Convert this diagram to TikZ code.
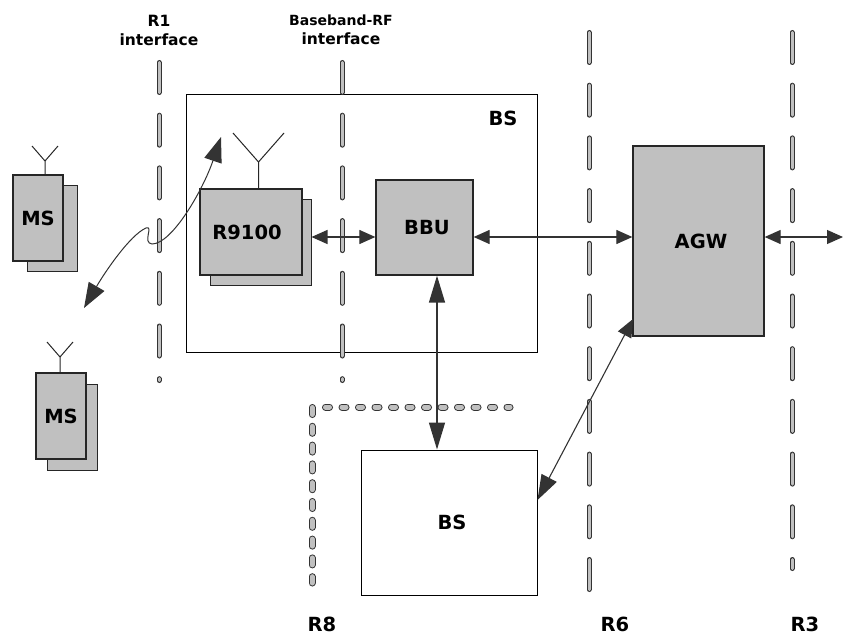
\documentclass[tikz,border=0pt]{standalone}
\usepackage{fontspec}
\setmainfont{DejaVu Sans}
\usetikzlibrary{arrows.meta, positioning, calc}
\definecolor{unitgray}{HTML}{C0C0C0}
\definecolor{arrowdark}{HTML}{333333}

\begin{document}
\begin{tikzpicture}[
    x = 1pt, y = -1pt,
    frame/.style = {draw = black, line width = 1pt, fill = white,
                    font = \fontsize{19.5}{21}\selectfont\bfseries, inner sep = 0pt},
    unit/.style  = {draw = black!85, line width = 1.3pt, fill = unitgray,
                    font = \fontsize{19.5}{21}\selectfont\bfseries, inner sep = 0pt},
    under/.style = {draw = black!85, line width = 1pt, fill = unitgray, inner sep = 0pt},
    lbl/.style   = {font = \fontsize{19.5}{21}\selectfont\bfseries, inner sep = 0pt},
    toplbl/.style = {font = \fontsize{15.5}{19}\selectfont\bfseries, align = center, inner sep = 0pt},
    slot/.style  = {draw = unitgray, line width = 3pt, line cap = round,
                    dash pattern = on 30pt off 22.7pt,
                    preaction = {draw = black!80, line width = 5pt, line cap = round,
                                 dash pattern = on 30pt off 22.7pt}},
    dotv/.style  = {draw = unitgray, line width = 5pt, line cap = round,
                    dash pattern = on 7pt off 11.8pt,
                    preaction = {draw = black!80, line width = 7pt, line cap = round,
                                 dash pattern = on 7pt off 11.8pt}},
    doth/.style  = {draw = unitgray, line width = 5pt, line cap = round,
                    dash pattern = on 4pt off 12.5pt,
                    preaction = {draw = black!80, line width = 7pt, line cap = round,
                                 dash pattern = on 4pt off 12.5pt}},
    arr/.style   = {{Triangle[length=16pt,width=14pt]}-{Triangle[length=16pt,width=14pt]},
                    arrowdark, line width = 1.2pt},
    big/.style   = {{Triangle[length=27pt,width=16pt]}-{Triangle[length=27pt,width=16pt]},
                    arrowdark, line width = 1.4pt},
    mast/.style  = {draw = black!85, line width = 1pt},
  ]
    \useasboundingbox (0,0) rectangle (843,634);

    %% ── Base stations ────────────────────────────────────────────
    \node[frame, minimum width = 351pt, minimum height = 258pt] (BS1) at (361.5,223) {};
    \node[lbl] (BS1t) at (503,118) {BS};
    \node[frame, minimum width = 176pt, minimum height = 145pt] (BS2) at (449,522.5) {\hspace{6pt}BS};

    %% ── Interface lines ──────────────────────────────────────────
    \coordinate (R1a) at (159,62.5);   \coordinate (R1b) at (159,380.5);
    \coordinate (RFa) at (342,62.5);   \coordinate (RFb) at (342,380.5);
    \coordinate (R6a) at (589,32.5);   \coordinate (R6b) at (589,590.5);
    \coordinate (R3a) at (792,32.5);   \coordinate (R3b) at (792,568.5);
    \draw[slot] (R1a) -- (R1b);
    \draw[slot] (RFa) -- (RFb);
    \draw[slot] (R6a) -- (R6b);
    \draw[slot] (R3a) -- (R3b);

    %% ── R8 ───────────────────────────────────────────────────────
    \coordinate (R8a) at (312,407.5);  \coordinate (R8b) at (312,583);
    \coordinate (R8c) at (325.5,407);  \coordinate (R8d) at (510,407);
    \draw[dotv] (R8a) -- (R8b);
    \draw[doth] (R8c) -- (R8d);

    %% ── Mobile stations ──────────────────────────────────────────
    \node[under, minimum width = 50pt, minimum height = 86pt] (MS1b) at (52,228) {};
    \node[unit, minimum width = 50pt, minimum height = 86pt] (MS1) at (38,218) {MS};
    \coordinate (MS1t) at (45,161);
    \coordinate (MS1l) at (32,146);
    \coordinate (MS1r) at (58,146);
    \draw[mast] (MS1.north -| MS1t) -- (MS1t) -- (MS1l);
    \draw[mast] (MS1t) -- (MS1r);

    \node[under, minimum width = 50pt, minimum height = 86pt] (MS2b) at (72,427) {};
    \node[unit, minimum width = 50pt, minimum height = 86pt] (MS2) at (61,416) {MS};
    \coordinate (MS2t) at (60,357);
    \coordinate (MS2l) at (47,342);
    \coordinate (MS2r) at (73,342);
    \draw[mast] (MS2.north -| MS2t) -- (MS2t) -- (MS2l);
    \draw[mast] (MS2t) -- (MS2r);

    %% ── Radio unit, baseband, gateway ────────────────────────────
    \node[under, minimum width = 101pt, minimum height = 86pt] (RRUb) at (260.5,242) {};
    \node[unit, minimum width = 102pt, minimum height = 86pt] (RRU) at (251,232) {R9100\kern8pt};
    \coordinate (RRUt) at (258.5,162);
    \coordinate (RRUl) at (233,133);
    \coordinate (RRUr) at (284,133);
    \draw[mast] (RRU.north -| RRUt) -- (RRUt) -- (RRUl);
    \draw[mast] (RRUt) -- (RRUr);

    \node[unit, minimum width = 97pt, minimum height = 95pt] (BBU) at (424.5,227.5) {\hspace{5pt}BBU};
    \node[unit, minimum width = 131pt, minimum height = 190pt] (AGW) at (698.5,241) {\hspace{5pt}AGW};

    %% ── Connectors ───────────────────────────────────────────────
    \coordinate (M) at (0,237);
    \coordinate (EX) at (843,237);
    \coordinate (AG) at (633,319);
    \coordinate (BSd) at (537.5,500);
    \draw[arr] (RRUb.east |- M) -- (BBU.west |- M);
    \draw[arr] (BBU.east |- M) -- (AGW.west |- M);
    \draw[arr] (AGW.east |- M) -- (EX);
    \draw[big] (BBU.south -| 437,0) -- (BS2.north -| 437,0);
    \draw[{Triangle[length=25pt,width=17pt]}-{Triangle[length=18pt,width=15pt]},
          arrowdark, line width = 1.1pt] (BSd) -- (AG);

    %% ── Radio link ───────────────────────────────────────────────
    \coordinate (LKa) at (84,308);
    \coordinate (LKb) at (221,137);
    \draw[{Triangle[length=25pt,width=18pt]}-{Triangle[length=25pt,width=18pt]},
          arrowdark, line width = 1pt]
      (LKa) .. controls (105,272) and (130,235) .. (146,228)
            .. controls (154,225) and (142,243) .. (152,244)
            .. controls (172,244) and (203,190) .. (LKb);

    %% ── Labels ───────────────────────────────────────────────────
    \node[toplbl] (R1l) at (159,30) {R1\\interface};
    \node[toplbl] (RFl) at (341,30) {{\fontsize{14}{19}\selectfont Baseband-RF}\\interface};
    \node[lbl] (R8l) at (322,624) {R8};
    \node[lbl] (R6l) at (615,624) {R6};
    \node[lbl] (R3l) at (805,624) {R3};
  \end{tikzpicture}
\end{document}
